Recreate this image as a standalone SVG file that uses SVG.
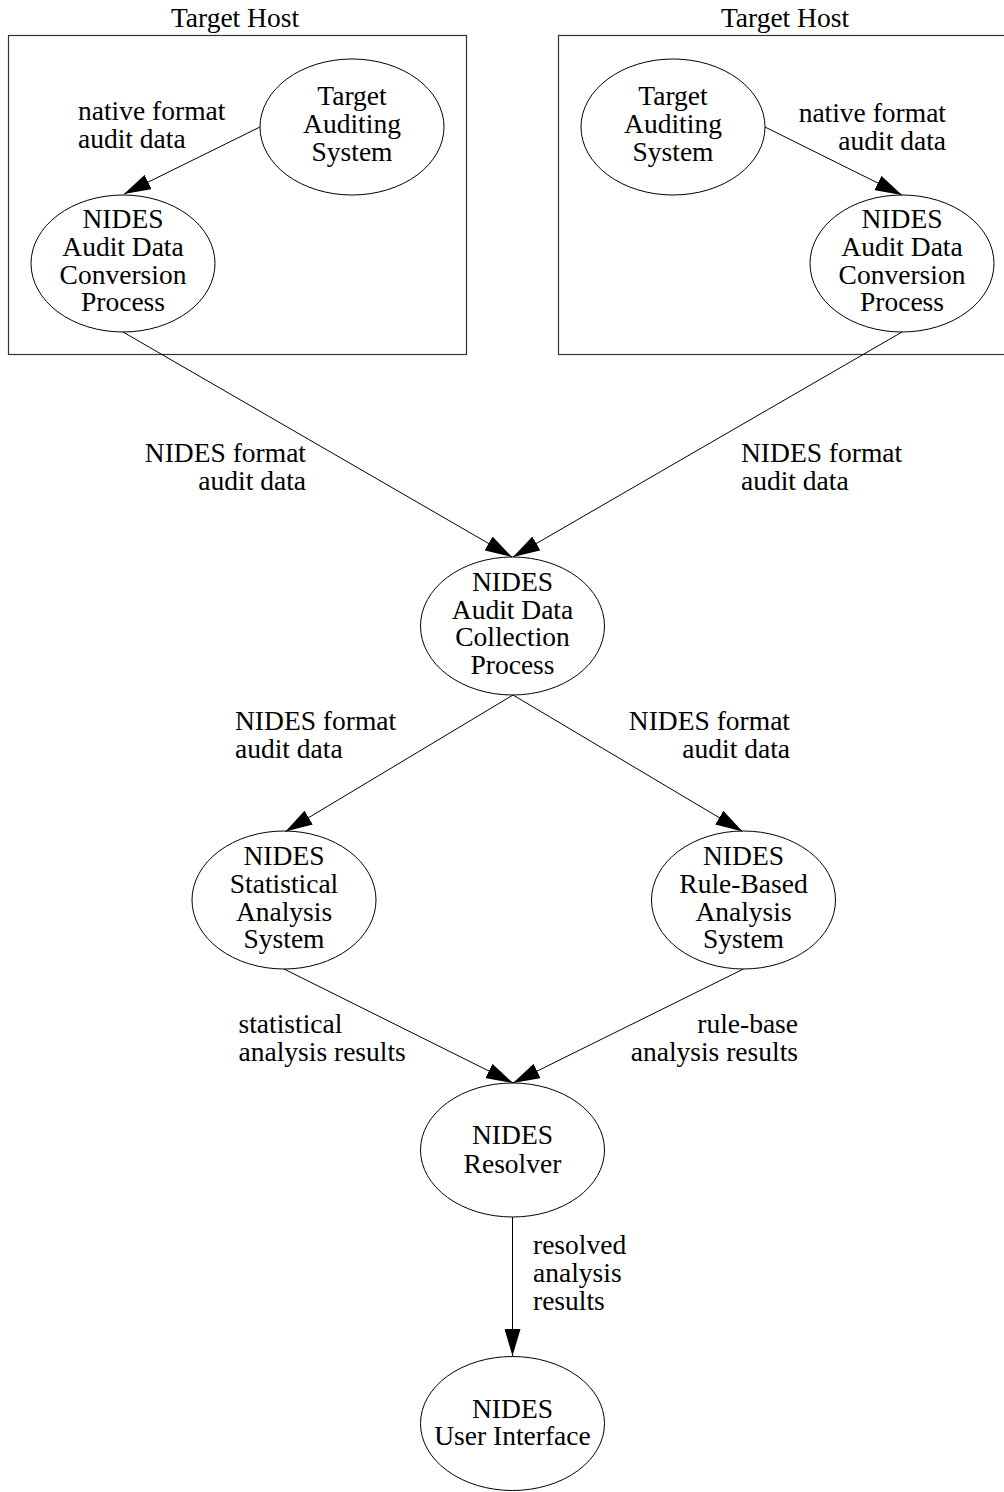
<svg xmlns="http://www.w3.org/2000/svg" width="1004" height="1492" viewBox="0 0 1004 1492">
<style>
text{font-family:"Liberation Serif","Times New Roman",serif;font-size:27.5px;fill:#000}
.c{text-anchor:middle}
.r{text-anchor:end}
.node{fill:none;stroke:#000;stroke-width:1}
.box{fill:none;stroke:#333;stroke-width:1.2}
.edge{fill:none;stroke:#000;stroke-width:1;marker-end:url(#arr)}
</style>
<defs>
<marker id="arr" markerUnits="userSpaceOnUse" markerWidth="28" markerHeight="16" refX="27" refY="8" orient="auto">
<path d="M0,0 L27,8 L0,16 z" fill="#000"/>
</marker>
</defs>
<g id="hostLeft">
<rect class="box" x="8.5" y="35.5" width="458" height="319"/>
<text class="c" x="235" y="27">Target Host</text>
</g>
<g id="hostRight">
<rect class="box" x="558.5" y="35.5" width="460" height="319"/>
<text class="c" x="785" y="27">Target Host</text>
</g>
<g id="connectors">
<line class="edge" x1="260" y1="127" x2="124" y2="194"/>
<line class="edge" x1="765" y1="127" x2="902" y2="195"/>
<line class="edge" x1="123" y1="332" x2="512" y2="557"/>
<line class="edge" x1="902" y1="332" x2="513" y2="557"/>
<line class="edge" x1="513" y1="695" x2="285.5" y2="831.5"/>
<line class="edge" x1="513" y1="695" x2="742.5" y2="831.5"/>
<line class="edge" x1="284" y1="969" x2="513" y2="1083"/>
<line class="edge" x1="743.5" y1="969" x2="513" y2="1083"/>
<line class="edge" x1="512.5" y1="1217" x2="512.5" y2="1356"/>
<text x="78" y="120">native format</text>
<text x="78" y="148">audit data</text>
<text class="r" x="946" y="122">native format</text>
<text class="r" x="946" y="150">audit data</text>
<text class="r" x="306" y="462">NIDES format</text>
<text class="r" x="306" y="490">audit data</text>
<text x="741" y="462">NIDES format</text>
<text x="741" y="490">audit data</text>
<text x="235" y="730">NIDES format</text>
<text x="235" y="758">audit data</text>
<text class="r" x="790" y="730">NIDES format</text>
<text class="r" x="790" y="758">audit data</text>
<text x="238.5" y="1033">statistical</text>
<text x="238.5" y="1061">analysis results</text>
<text class="r" x="798" y="1033">rule-base</text>
<text class="r" x="798" y="1061">analysis results</text>
<text x="533" y="1254">resolved</text>
<text x="533" y="1282">analysis</text>
<text x="533" y="1310">results</text>
</g>
<g id="tasLeft">
<ellipse class="node" cx="352" cy="127" rx="92" ry="68"/>
<text class="c" x="352" y="105">Target</text>
<text class="c" x="352" y="133">Auditing</text>
<text class="c" x="352" y="161">System</text>
</g>
<g id="tasRight">
<ellipse class="node" cx="673" cy="127" rx="92" ry="68"/>
<text class="c" x="673" y="105">Target</text>
<text class="c" x="673" y="133">Auditing</text>
<text class="c" x="673" y="161">System</text>
</g>
<g id="convLeft">
<ellipse class="node" cx="123" cy="263.5" rx="92" ry="68.5"/>
<text class="c" x="123" y="228">NIDES</text>
<text class="c" x="123" y="256">Audit Data</text>
<text class="c" x="123" y="283.5">Conversion</text>
<text class="c" x="123" y="311">Process</text>
</g>
<g id="convRight">
<ellipse class="node" cx="902" cy="263.5" rx="92" ry="68.5"/>
<text class="c" x="902" y="228">NIDES</text>
<text class="c" x="902" y="256">Audit Data</text>
<text class="c" x="902" y="283.5">Conversion</text>
<text class="c" x="902" y="311">Process</text>
</g>
<g id="collection">
<ellipse class="node" cx="512.5" cy="626" rx="92" ry="69"/>
<text class="c" x="512.5" y="591">NIDES</text>
<text class="c" x="512.5" y="619">Audit Data</text>
<text class="c" x="512.5" y="646">Collection</text>
<text class="c" x="512.5" y="674">Process</text>
</g>
<g id="statistical">
<ellipse class="node" cx="284" cy="900" rx="92" ry="69"/>
<text class="c" x="284" y="865">NIDES</text>
<text class="c" x="284" y="893">Statistical</text>
<text class="c" x="284" y="920.5">Analysis</text>
<text class="c" x="284" y="948">System</text>
</g>
<g id="ruleBased">
<ellipse class="node" cx="743.5" cy="900" rx="92" ry="69"/>
<text class="c" x="743.5" y="865">NIDES</text>
<text class="c" x="743.5" y="893">Rule-Based</text>
<text class="c" x="743.5" y="920.5">Analysis</text>
<text class="c" x="743.5" y="948">System</text>
</g>
<g id="resolver">
<ellipse class="node" cx="512.5" cy="1150" rx="92" ry="67"/>
<text class="c" x="512.5" y="1144">NIDES</text>
<text class="c" x="512.5" y="1172.5">Resolver</text>
</g>
<g id="userInterface">
<ellipse class="node" cx="512.5" cy="1423.5" rx="92" ry="67"/>
<text class="c" x="512.5" y="1418">NIDES</text>
<text class="c" x="512.5" y="1445">User Interface</text>
</g>
</svg>
